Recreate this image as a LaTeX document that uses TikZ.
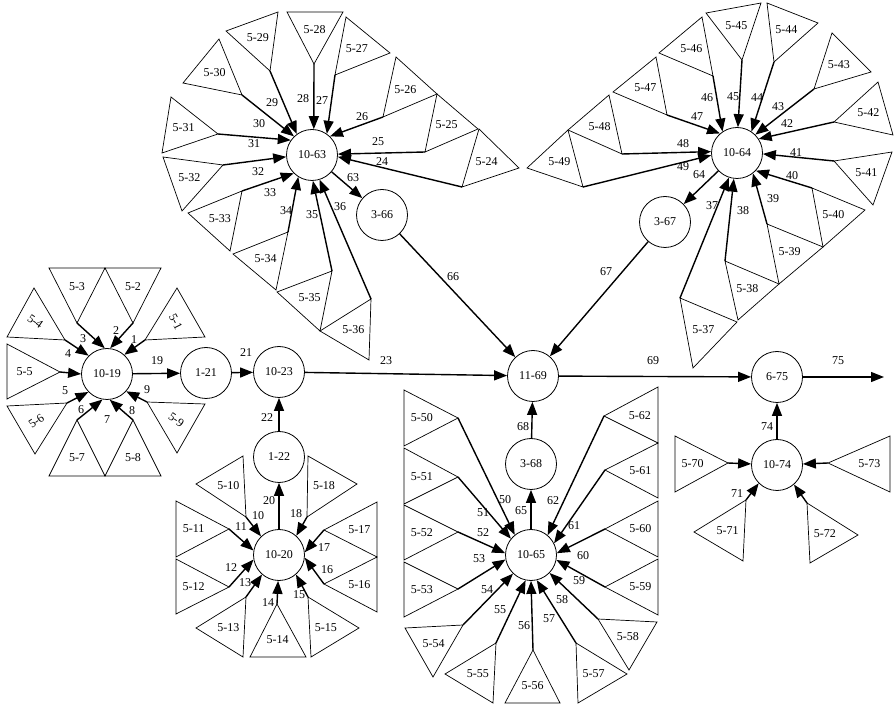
\documentclass[tikz,border=0pt]{standalone}
\usepackage{fontspec}
\setmainfont{Liberation Serif}
\usetikzlibrary{arrows.meta}
\tikzstyle{hub} = [circle, draw=black, line width=0.8pt, minimum size=51pt, inner sep=0pt, font=\fontsize{12}{14}\selectfont]
\tikzstyle{tribox} = [draw=black, line width=0.7pt]
\tikzstyle{tag} = [inner sep=0pt, font=\fontsize{12}{14}\selectfont]
\tikzstyle{flow} = [line width=1.4pt, -{Triangle[length=13pt,width=10pt]}]

% triangle feeder: [rotation]{name}{apex}{corner}{corner}{text}
\newcommand{\feeder}[6][0]{%
  \coordinate (#2) at #3;
  \coordinate (#2b) at #4;
  \coordinate (#2c) at #5;
  \draw[tribox] (#2) -- (#2b) -- (#2c) -- cycle;
  \node[tag, rotate=#1] (#2l) at (barycentric cs:#2=1,#2b=1,#2c=1) {#6};
}

\begin{document}
\begin{tikzpicture}[x=1pt, y=-1pt]
\useasboundingbox (0,0) rectangle (895,708);

\node (h19) [hub] at (107,374) {10-19};
\node (n21) [hub] at (206,373) {1-21};
\node (h23) [hub] at (279,372) {10-23};
\node (n22) [hub] at (279,457) {1-22};
\node (h20) [hub] at (279,555) {10-20};
\node (h63) [hub] at (312,155) {10-63};
\node (n66) [hub] at (382,215) {3-66};
\node (h64) [hub] at (737,153) {10-64};
\node (n67) [hub] at (665,222) {3-67};
\node (h69) [hub] at (533,376) {11-69};
\node (n68) [hub] at (531,464) {3-68};
\node (h65) [hub] at (531,555) {10-65};
\node (n75) [hub] at (777,377) {6-75};
\node (h74) [hub] at (777,465) {10-74};
\coordinate (out) at (884,377);

\feeder[-63]{t1}{(145,340)}{(177,288)}{(205,337)}{5-1}
\feeder{t2}{(133,323)}{(105,268)}{(161,268)}{5-2}
\feeder{t3}{(77,323)}{(49,268)}{(105,268)}{5-3}
\feeder[-35]{t4}{(65,340)}{(34,288)}{(7,337)}{5-4}
\feeder{t5}{(60,372)}{(7,344)}{(7,399)}{5-5}
\feeder[35]{t6}{(67,403)}{(7,406)}{(35,454)}{5-6}
\feeder{t7}{(77,420)}{(49,476)}{(105,476)}{5-7}
\feeder{t8}{(133,420)}{(105,476)}{(161,476)}{5-8}
\feeder[-35]{t9}{(147,402)}{(205,404)}{(177,453)}{5-9}

\feeder{t10}{(246,517)}{(196,484)}{(243,456)}{5-10}
\feeder{t11}{(229,529)}{(176,501)}{(176,557)}{5-11}
\feeder{t12}{(229,587)}{(176,559)}{(176,614)}{5-12}
\feeder{t13}{(246,597)}{(196,628)}{(243,657)}{5-13}
\feeder{t14}{(277,604)}{(250,657)}{(306,657)}{5-14}
\feeder{t15}{(308,597)}{(359,628)}{(311,657)}{5-15}
\feeder{t16}{(324,584)}{(377,557)}{(377,612)}{5-16}
\feeder{t17}{(324,530)}{(377,502)}{(377,557)}{5-17}
\feeder{t18}{(307,517)}{(308,456)}{(357,484)}{5-18}

\feeder{t24}{(462,187)}{(479,129)}{(519,168)}{5-24}
\feeder{t25}{(425,152)}{(437,94)}{(478,129)}{5-25}
\feeder{t26}{(383,117)}{(396,57)}{(437,94)}{5-26}
\feeder{t27}{(335,75)}{(346,17)}{(390,53)}{5-27}
\feeder{t28}{(314,64)}{(287,12)}{(343,12)}{5-28}
\feeder{t29}{(270,71)}{(226,31)}{(278,12)}{5-29}
\feeder{t30}{(242,95)}{(219,39)}{(183,83)}{5-30}
\feeder{t31}{(218,134)}{(171,97)}{(162,153)}{5-31}
\feeder{t32}{(223,165)}{(163,157)}{(182,211)}{5-32}
\feeder{t33}{(242,191)}{(188,213)}{(230,251)}{5-33}
\feeder{t34}{(288,232)}{(233,254)}{(276,290)}{5-34}
\feeder{t35}{(332,271)}{(277,292)}{(320,331)}{5-35}
\feeder{t36}{(371,299)}{(320,331)}{(369,360)}{5-36}

\feeder{t37}{(680,298)}{(737,322)}{(693,368)}{5-37}
\feeder{t38}{(725,261)}{(779,284)}{(738,320)}{5-38}
\feeder{t39}{(767,224)}{(823,247)}{(779,284)}{5-39}
\feeder{t40}{(812,188)}{(865,210)}{(823,247)}{5-40}
\feeder{t41}{(834,161)}{(892,152)}{(873,205)}{5-41}
\feeder{t42}{(834,122)}{(878,82)}{(893,135)}{5-42}
\feeder{t43}{(814,89)}{(832,33)}{(871,72)}{5-43}
\feeder{t44}{(774,62)}{(767,3)}{(818,23)}{5-44}
\feeder{t45}{(742,60)}{(706,13)}{(761,3)}{5-45}
\feeder{t46}{(713,76)}{(702,17)}{(659,53)}{5-46}
\feeder{t47}{(667,115)}{(656,57)}{(613,92)}{5-47}
\feeder{t48}{(622,154)}{(609,95)}{(568,130)}{5-48}
\feeder{t49}{(583,187)}{(568,130)}{(527,168)}{5-49}

\feeder{t50}{(458,418)}{(404,390)}{(404,446)}{5-50}
\feeder{t51}{(458,477)}{(404,448)}{(404,504)}{5-51}
\feeder{t52}{(458,532)}{(404,505)}{(404,560)}{5-52}
\feeder{t53}{(458,589)}{(404,562)}{(404,617)}{5-53}
\feeder{t54}{(463,625)}{(405,628)}{(433,677)}{5-54}
\feeder{t55}{(496,643)}{(445,674)}{(493,703)}{5-55}
\feeder{t56}{(533,650)}{(505,703)}{(560,703)}{5-56}
\feeder{t57}{(576,643)}{(627,674)}{(578,703)}{5-57}
\feeder{t58}{(598,619)}{(657,622)}{(629,670)}{5-58}
\feeder{t59}{(605,587)}{(658,559)}{(658,615)}{5-59}
\feeder{t60}{(605,529)}{(658,501)}{(658,557)}{5-60}
\feeder{t61}{(605,470)}{(658,443)}{(658,498)}{5-61}
\feeder{t62}{(604,416)}{(658,387)}{(658,443)}{5-62}

\feeder{t70}{(728,463)}{(675,436)}{(675,492)}{5-70}
\feeder{t71}{(746,500)}{(694,532)}{(743,561)}{5-71}
\feeder{t72}{(807,503)}{(858,535)}{(810,563)}{5-72}
\feeder{t73}{(828,463)}{(890,436)}{(890,492)}{5-73}

\draw [flow] (t1) -- (h19.48) node (a1) [tag] at (134,340) {1};
\draw [flow] (t2) -- (h19.83) node (a2) [tag] at (116,331) {2};
\draw [flow] (t3) -- (h19.95) node (a3) [tag] at (83,339) {3};
\draw [flow] (t4) -- (h19.135) node (a4) [tag] at (68,354) {4};
\draw [flow] (t5) -- (h19.180) node (a5) [tag] at (65,391) {5};
\draw [flow] (t6) -- (h19.224) node (a6) [tag] at (81,410) {6};
\draw [flow] (t7) -- (h19.260) node (a7) [tag] at (107,420) {7};
\draw [flow] (t8) -- (h19.276) node (a8) [tag] at (132,411) {8};
\draw [flow] (t9) -- (h19.318) node (a9) [tag] at (147,390) {9};
\draw [flow] (h19) -- (n21) node (a19) [tag] at (157,361) {19};
\draw [flow] (n21) -- (h23) node (a21) [tag] at (246,353) {21};

\draw [flow] (t10) -- (h20.134) node (a10) [tag] at (258,516) {10};
\draw [flow] (t11) -- (h20.170) node (a11) [tag] at (241,527) {11};
\draw [flow] (t12) -- (h20.190) node (a12) [tag] at (231,568) {12};
\draw [flow] (t13) -- (h20.229) node (a13) [tag] at (245,583) {13};
\draw [flow] (t14) -- (h20.268) node (a14) [tag] at (268,603) {14};
\draw [flow] (t15) -- (h20.311) node (a15) [tag] at (299,595) {15};
\draw [flow] (t16) -- (h20.354) node (a16) [tag] at (327,570) {16};
\draw [flow] (t17) -- (h20.6) node (a17) [tag] at (324,548) {17};
\draw [flow] (t18) -- (h20.48) node (a18) [tag] at (296,514) {18};
\draw [flow] (h20) -- (n22) node (a20) [tag] at (269,501) {20};
\draw [flow] (n22) -- (h23) node (a22) [tag] at (267,418) {22};

\draw [flow] (t24) -- (h63.356) node (a24) [tag] at (382,162) {24};
\draw [flow] (t25) -- (h63.2) node (a25) [tag] at (378,142) {25};
\draw [flow] (t26) -- (h63.46) node (a26) [tag] at (362,117) {26};
\draw [flow] (t27) -- (h63.55) node (a27) [tag] at (322,101) {27};
\draw [flow] (t28) -- (h63.86) node (a28) [tag] at (303,99) {28};
\draw [flow] (t29) -- (h63.126) node (a29) [tag] at (272,103) {29};
\draw [flow] (t30) -- (h63.134) node (a30) [tag] at (259,124) {30};
\draw [flow] (t31) -- (h63.145) node (a31) [tag] at (254,144) {31};
\draw [flow] (t32) -- (h63.184) node (a32) [tag] at (258,172) {32};
\draw [flow] (t33) -- (h63.225) node (a33) [tag] at (270,193) {33};
\draw [flow] (t34) -- (h63.238) node (a34) [tag] at (286,211) {34};
\draw [flow] (t35) -- (h63.272) node (a35) [tag] at (312,215) {35};
\draw [flow] (t36) -- (h63.287) node (a36) [tag] at (340,207) {36};
\draw [flow] (h63) -- (n66) node (a63) [tag] at (353,178) {63};
\draw [flow] (n66) -- (h69) node (a66) [tag] at (453,277) {66};

\draw [flow] (t37) -- (h64.252) node (a37) [tag] at (712,206) {37};
\draw [flow] (t38) -- (h64.263) node (a38) [tag] at (743,211) {38};
\draw [flow] (t39) -- (h64.308) node (a39) [tag] at (773,199) {39};
\draw [flow] (t40) -- (h64.317) node (a40) [tag] at (792,176) {40};
\draw [flow] (t41) -- (h64.358) node (a41) [tag] at (796,153) {41};
\draw [flow] (t42) -- (h64.33) node (a42) [tag] at (787,124) {42};
\draw [flow] (t43) -- (h64.45) node (a43) [tag] at (778,107) {43};
\draw [flow] (t44) -- (h64.56) node (a44) [tag] at (757,98) {44};
\draw [flow] (t45) -- (h64.88) node (a45) [tag] at (733,97) {45};
\draw [flow] (t46) -- (h64.124) node (a46) [tag] at (707,98) {46};
\draw [flow] (t47) -- (h64.131) node (a47) [tag] at (697,117) {47};
\draw [flow] (t48) -- (h64.177) node (a48) [tag] at (683,144) {48};
\draw [flow] (t49) -- (h64.185) node (a49) [tag] at (683,167) {49};
\draw [flow] (h64) -- (n67) node (a64) [tag] at (699,175) {64};
\draw [flow] (n67) -- (h69) node (a67) [tag] at (606,272) {67};

\draw [flow] (t50) -- (h65.129) node (a50) [tag] at (505,500) {50};
\draw [flow] (t51) -- (h65.141) node (a51) [tag] at (483,513) {51};
\draw [flow] (t52) -- (h65.176) node (a52) [tag] at (483,533) {52};
\draw [flow] (t53) -- (h65.190) node (a53) [tag] at (479,559) {53};
\draw [flow] (t54) -- (h65.226) node (a54) [tag] at (487,590) {54};
\draw [flow] (t55) -- (h65.258) node (a55) [tag] at (500,610) {55};
\draw [flow] (t56) -- (h65.270) node (a56) [tag] at (524,626) {56};
\draw [flow] (t57) -- (h65.283) node (a57) [tag] at (549,619) {57};
\draw [flow] (t58) -- (h65.316) node (a58) [tag] at (562,600) {58};
\draw [flow] (t59) -- (h65.349) node (a59) [tag] at (579,581) {59};
\draw [flow] (t60) -- (h65.4) node (a60) [tag] at (583,556) {60};
\draw [flow] (t61) -- (h65.27) node (a61) [tag] at (574,526) {61};
\draw [flow] (t62) -- (h65.50) node (a62) [tag] at (553,501) {62};
\draw [flow] (h65) -- (n68) node (a65) [tag] at (521,511) {65};
\draw [flow] (n68) -- (h69) node (a68) [tag] at (523,427) {68};

\draw [flow] (h23) -- (h69) node (a23) [tag] at (386,361) {23};
\draw [flow] (h69) -- (n75) node (a69) [tag] at (653,361) {69};

\draw [flow] (t70) -- (h74);
\draw [flow] (t71) -- (h74.225) node (a71) [tag] at (737,494) {71};
\draw [flow] (t72) -- (h74.311);
\draw [flow] (t73) -- (h74);
\draw [flow] (h74) -- (n75) node (a74) [tag] at (767,427) {74};
\draw [flow] (n75) -- (out) node (a75) [tag] at (838,361) {75};

\end{tikzpicture}
\end{document}
